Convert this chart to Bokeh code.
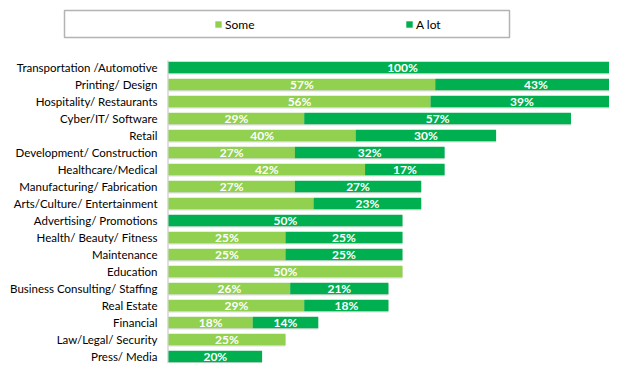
from bokeh.plotting import figure
from bokeh.models import ColumnDataSource, Range1d, Legend, LegendItem
from bokeh.core.properties import value
from bokeh.embed import file_html
from bokeh.resources import INLINE

categories = ["Transportation /Automotive", "Printing/ Design", "Hospitality/ Restaurants",
              "Cyber/IT/ Software", "Retail", "Development/ Construction", "Healthcare/Medical",
              "Manufacturing/ Fabrication", "Arts/Culture/ Entertainment", "Advertising/ Promotions",
              "Health/ Beauty/ Fitness", "Maintenance", "Education", "Business Consulting/ Staffing",
              "Real Estate", "Financial", "Law/Legal/ Security", "Press/ Media"]
some = [0, 57, 56, 29, 40, 27, 42, 27, 31, 0, 25, 25, 50, 26, 29, 18, 25, 0]
a_lot = [100, 43, 39, 57, 30, 32, 17, 27, 23, 50, 25, 25, 0, 21, 18, 14, 0, 20]
unlabeled_some = ["Arts/Culture/ Entertainment"]
series_names = ["Some", "A lot"]

LIGHT = "#92D050"
DARK = "#00B050"
FONT = "Lato"

# ---- layout (pixels) ----
W, H = 609, 363
X0 = 168          # pixel of 0%
PX_PER_PCT = 4.68
ROW0 = 67         # pixel centre of first row
ROW_STEP = 17.0
BAR_H = 0.68
SHADOW_DY = 1.3 / ROW_STEP


def px_to_x(px):
    return (px - X0) / PX_PER_PCT


def px_to_y(py):
    return (py - ROW0) / ROW_STEP


n = len(categories)
idx = list(range(n))
some_lbl = ["" if (v == 0 or c in unlabeled_some) else f"{v}%" for c, v in zip(categories, some)]
alot_lbl = ["" if v == 0 else f"{v}%" for v in a_lot]
src = ColumnDataSource(dict(
    y=idx, y_sh=[i + SHADOW_DY for i in idx], cat=categories, some=some,
    total=[s + a for s, a in zip(some, a_lot)],
    some_mid=[s / 2 for s in some],
    alot_mid=[s + a / 2 for s, a in zip(some, a_lot)],
    some_lbl=some_lbl, alot_lbl=alot_lbl,
))

p = figure(width=W, height=H, output_backend="svg", toolbar_location=None,
           x_range=Range1d(px_to_x(0), px_to_x(W)), y_range=Range1d(px_to_y(H), px_to_y(0)),
           min_border_left=0, min_border_right=0, min_border_top=0, min_border_bottom=0)
p.outline_line_color = None
p.grid.visible = False
p.axis.visible = False

# legend frame
p.quad(left=[px_to_x(64)], right=[px_to_x(509)], top=[px_to_y(10)], bottom=[px_to_y(37)],
       fill_color="white", line_color="#b3b3b3", line_width=1.5)

# category axis line
p.segment(x0=[px_to_x(167.5)], x1=[px_to_x(167.5)], y0=[px_to_y(60)], y1=[px_to_y(H + 5)],
          line_color="#bfbfbf", line_width=1)

# soft bar shadow
p.hbar(y="y_sh", left=0, right="total", height=BAR_H, fill_color="#cfcfcf",
       fill_alpha=0.7, line_color=None, source=src)

r_some = p.hbar(y="y", left=0, right="some", height=BAR_H, fill_color=LIGHT,
                line_color=None, source=src)
r_alot = p.hbar(y="y", left="some", right="total", height=BAR_H, fill_color=DARK,
                line_color=None, source=src)

for col, xcol in (("some_lbl", "some_mid"), ("alot_lbl", "alot_mid")):
    p.text(x=xcol, y="y", text=col, source=src, text_align="center", text_baseline="middle",
           text_color="white", text_font=value(FONT), text_font_style="bold",
           text_font_size="12px")

# category labels
p.text(x=px_to_x(157), y="y", text="cat", source=src, text_align="right",
       text_baseline="middle", text_color="#000000", text_font=value(FONT),
       text_font_size="11.5px")

legend = Legend(items=[LegendItem(label=series_names[0], renderers=[r_some]),
                       LegendItem(label=series_names[1], renderers=[r_alot])],
                orientation="horizontal", location=(214, H - 31.5),
                border_line_color=None, background_fill_alpha=0,
                glyph_width=8, glyph_height=8, label_standoff=3,
                label_width=180, spacing=0, padding=0, margin=0,
                label_text_font=FONT, label_text_font_size="12px",
                label_text_color="#000000")
p.add_layout(legend, "center")

open("out.html", "w").write(file_html(p, INLINE))
